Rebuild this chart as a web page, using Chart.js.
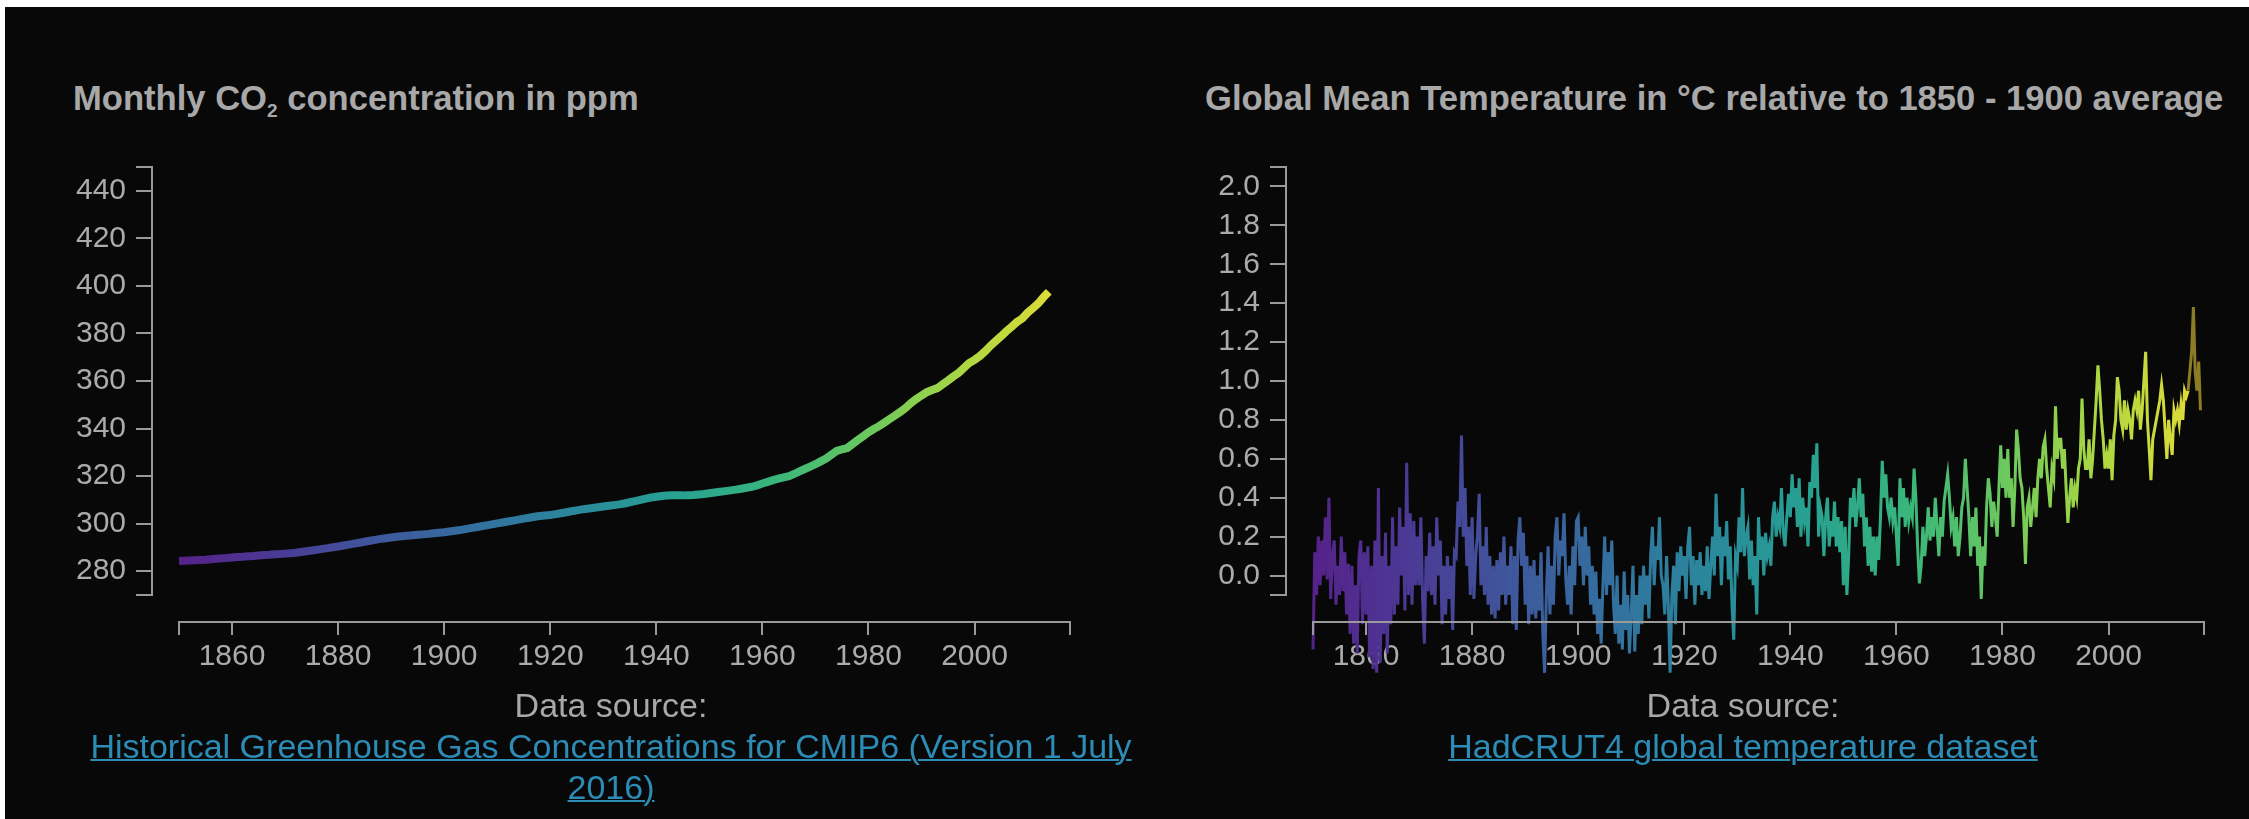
<!DOCTYPE html>
<html>
<head>
<meta charset="utf-8">
<script src="https://cdn.jsdelivr.net/npm/chart.js@4"></script>
<style>
  html, body { margin: 0; padding: 0; background: #fff; }
  body { width: 2249px; height: 819px; position: relative; overflow: hidden;
         font-family: 'Liberation Sans', Arial, Helvetica, sans-serif; }
  #panel { position: absolute; left: 5px; top: 7px; right: 0; bottom: 0; background: #080808; }
  canvas { position: absolute; top: 0; }
  .title { position: absolute; top: 81px; font-size: 34.6px; font-weight: bold; color: #a8a8a8;
           line-height: 34px; white-space: nowrap; }
  .title sub { font-size: 19px; vertical-align: -7px; line-height: 0; }
  .source { position: absolute; top: 685px; width: 1200px; text-align: center; font-size: 34px;
            line-height: 41px; color: #a8a8a8; white-space: nowrap; }
  .source a { color: #2c8cb5; text-decoration: underline; text-decoration-thickness: 2px; }
</style>
</head>
<body>
<div id="panel"></div>
<div class="title" style="left:73px">Monthly CO<sub>2</sub> concentration in ppm</div>
<div class="title" style="left:1205px">Global Mean Temperature in °C relative to 1850 - 1900 average</div>
<canvas id="co2" width="1124" height="700" style="left:0"></canvas>
<canvas id="temp" width="1125" height="700" style="left:1124px"></canvas>
<div class="source" style="left:11px">Data source:<br><a href="#">Historical Greenhouse Gas Concentrations for CMIP6 (Version 1 July<br>2016)</a></div>
<div class="source" style="left:1143px">Data source:<br><a href="#">HadCRUT4 global temperature dataset</a></div>
<script>
// x axis shared by both charts
const yearRange = [1850, 2018]
const yearTicks = [1860, 1880, 1900, 1920, 1940, 1960, 1980, 2000]

// CO2, one value per year from 1850
const co2StartYear = 1850
const co2Range = [270, 450]
const co2Ticks = [280, 300, 320, 340, 360, 380, 400, 420, 440]
const co2Values = [
  284.3, 284.4, 284.5, 284.6, 284.7, 284.8, 285.0, 285.2, 285.4, 285.6,
  285.8, 286.0, 286.1, 286.3, 286.4, 286.6, 286.8, 286.9, 287.1, 287.2,
  287.4, 287.6, 287.8, 288.1, 288.4, 288.7, 289.0, 289.4, 289.7, 290.1,
  290.4, 290.8, 291.2, 291.6, 292.0, 292.4, 292.8, 293.2, 293.6, 293.9,
  294.2, 294.5, 294.7, 294.9, 295.1, 295.3, 295.5, 295.7, 296.0, 296.2,
  296.4, 296.7, 297.0, 297.3, 297.7, 298.1, 298.5, 298.9, 299.3, 299.7,
  300.1, 300.5, 300.9, 301.3, 301.7, 302.1, 302.5, 302.9, 303.2, 303.4,
  303.6, 304.0, 304.4, 304.8, 305.2, 305.6, 306.0, 306.3, 306.6, 306.9,
  307.2, 307.5, 307.8, 308.1, 308.5, 309.0, 309.5, 310.0, 310.5, 311.0,
  311.3, 311.6, 311.8, 311.9, 311.9, 311.9, 312.0, 312.1, 312.3, 312.5,
  312.8, 313.1, 313.4, 313.7, 314.0, 314.3, 314.7, 315.1, 315.5, 316.1,
  316.9, 317.6, 318.3, 318.9, 319.5, 320.0, 320.9, 322.0, 323.0, 324.0,
  325.0, 326.2, 327.4, 329.0, 330.6, 331.2, 331.8, 333.5, 335.2, 336.8,
  338.4, 339.8, 341.0, 342.5, 344.0, 345.5, 347.0, 348.7, 350.7, 352.4,
  353.9, 355.3, 356.2, 357.0, 358.6, 360.2, 361.9, 363.4, 365.5, 367.6,
  368.9, 370.5, 372.5, 374.8, 376.8, 378.8, 380.9, 382.8, 384.8, 386.3,
  388.7, 390.6, 392.6, 395.2, 397.5
]

// temperature anomaly, three readings per year from 1850
const tempStartYear = 1850
const tempPerYear = 3
const tempRange = [-0.1, 2.1]
const tempTicks = [0.0, 0.2, 0.4, 0.6, 0.8, 1.0, 1.2, 1.4, 1.6, 1.8, 2.0]
const provisionalFrom = 2015
const temp1850s = [-0.38,0.12,-0.10, 0.20,-0.05,0.18, 0.00,0.30,-0.02, 0.40,-0.12,0.10, 0.18,-0.15,0.05, -0.10,0.20,-0.08, 0.12,-0.20,0.06, -0.30,0.05,-0.35, -0.05,-0.40,0.10, 0.18,-0.25,0.12]
const temp1860s = [-0.20,0.15,-0.42, 0.05,-0.48,0.18, -0.50,0.45,-0.45, 0.10,-0.30,0.22, -0.40,0.05,-0.25, 0.30,-0.20,0.15, -0.15,0.35,0.00, 0.25,-0.18,0.58, -0.10,0.32,-0.15, 0.28,-0.05,0.20]
const temp1870s = [-0.05,0.30,-0.12, -0.35,0.10,-0.08, 0.22,-0.10,0.15, -0.15,0.30,0.00, 0.18,-0.25,0.05, -0.20,0.10,-0.12, 0.05,-0.28,0.12, 0.10,0.38,0.25, 0.72,0.20,0.45, 0.05,0.25,-0.10]
const temp1880s = [0.30,-0.12,0.10, 0.20,0.42,-0.05, 0.15,-0.10,0.25, -0.15,0.10,-0.20, 0.05,-0.22,0.08, -0.18,0.12,-0.10, 0.20,-0.15,0.05, -0.10,0.15,-0.25, 0.10,-0.28,0.18, 0.30,0.05,0.22]
const temp1890s = [-0.15,0.10,-0.25, 0.05,-0.20,0.08, -0.22,0.00,-0.18, 0.12,-0.30,-0.50, -0.10,0.15,-0.20, 0.05,-0.15,0.20, 0.30,0.00,0.18, 0.10,0.32,-0.02, -0.15,0.05,-0.20, 0.15,-0.05,0.28]
const temp1900s = [0.30,0.05,0.20, -0.05,0.25,0.00, 0.15,-0.15,0.05, -0.20,0.02,-0.30, -0.12,-0.35,-0.05, 0.20,-0.10,0.12, -0.05,0.18,-0.15, -0.30,0.00,-0.35, -0.15,-0.38,0.02, -0.28,-0.10,-0.40]
const temp1910s = [-0.20,0.05,-0.39, -0.10,-0.30,0.00, -0.25,0.05,-0.15, 0.00,-0.22,0.10, 0.25,-0.05,0.15, 0.08,0.30,0.00, -0.05,-0.20,0.10, -0.15,-0.50,-0.10, 0.05,-0.25,0.12, -0.08,0.15,0.00]
const temp1920s = [0.10,-0.12,0.15, 0.25,-0.05,0.10, -0.15,0.08,-0.05, 0.12,-0.10,0.05, -0.08,0.15,-0.12, 0.05,0.20,0.00, 0.42,0.10,0.25, -0.05,0.20,0.10, 0.28,-0.02,0.15, -0.15,-0.33,0.10]
const temp1930s = [0.05,0.30,0.12, 0.45,0.10,0.20, 0.25,-0.02,0.18, -0.05,0.10,-0.20, 0.30,0.08,0.20, 0.00,0.22,0.10, 0.15,0.05,0.30, 0.38,0.20,0.30, 0.25,0.45,0.22, 0.15,0.30,0.42]
const temp1940s = [0.30,0.52,0.35, 0.45,0.25,0.50, 0.20,0.40,0.28, 0.35,0.15,0.48, 0.40,0.62,0.45, 0.68,0.20,0.35, 0.30,0.10,0.30, 0.40,0.15,0.28, 0.20,0.38,0.15, 0.30,0.12,0.28]
const temp1950s = [-0.05,0.25,-0.10, 0.10,0.40,0.30, 0.45,0.25,0.35, 0.50,0.30,0.42, 0.15,0.30,0.05, 0.25,0.02,0.20, 0.00,0.20,0.08, 0.30,0.59,0.40, 0.52,0.35,0.30, 0.40,0.28,0.35]
const temp1960s = [0.20,0.05,0.50, 0.30,0.45,0.25, 0.40,0.28,0.35, 0.30,0.55,0.40, 0.15,-0.04,0.05, 0.25,0.10,0.20, 0.35,0.18,0.30, 0.20,0.40,0.25, 0.10,0.30,0.20, 0.38,0.45,0.52]
const temp1970s = [0.40,0.25,0.30, 0.15,0.30,0.10, 0.20,0.35,0.40, 0.60,0.45,0.30, 0.10,0.30,0.15, 0.35,0.05,0.20, -0.12,0.15,0.05, 0.35,0.50,0.42, 0.25,0.38,0.30, 0.20,0.45,0.67]
const temp1980s = [0.45,0.60,0.40, 0.65,0.40,0.50, 0.25,0.45,0.75, 0.65,0.50,0.45, 0.30,0.06,0.35, 0.40,0.25,0.35, 0.45,0.30,0.50, 0.60,0.50,0.66, 0.70,0.55,0.45, 0.35,0.55,0.50]
const temp1990s = [0.87,0.60,0.70, 0.70,0.55,0.65, 0.45,0.27,0.40, 0.50,0.35,0.45, 0.40,0.55,0.60, 0.91,0.65,0.55, 0.55,0.70,0.50, 0.60,0.75,0.90, 1.08,0.95,0.80, 0.70,0.55,0.62]
const temp2000s = [0.55,0.70,0.49, 0.72,0.80,1.02, 0.95,0.80,0.75, 0.90,0.75,0.85, 0.80,0.70,0.85, 0.90,0.85,0.95, 0.75,0.85,1.00, 1.15,0.80,0.65, 0.49,0.70,0.75, 0.80,0.85,0.90]
const temp2010s = [0.98,0.90,0.75, 0.60,0.80,0.70, 0.62,0.85,0.80, 0.85,0.78,0.88, 0.80,0.95,0.92, 0.95,1.05,1.15, 1.38,1.05,0.95, 1.10,0.85]

const tempValues = [].concat(temp1850s, temp1860s, temp1870s, temp1880s, temp1890s, temp1900s,
  temp1910s, temp1920s, temp1930s, temp1940s, temp1950s, temp1960s, temp1970s, temp1980s,
  temp1990s, temp2000s, temp2010s)

const co2Points = co2Values.map((v, i) => ({ x: co2StartYear + i, y: v }))
const tempPoints = tempValues.map((v, i) => ({ x: tempStartYear + i / tempPerYear, y: v }))

// colours
const viridis = ['#55228a', '#4b3a96', '#3f579c', '#33709f', '#2a889c', '#27a191', '#38b67c', '#6cc95d', '#b0d840', '#e6dc36']
const textColor = '#ababab'
const axisColor = '#9a9a9a'

Chart.defaults.font.family = "'Liberation Sans', Arial, Helvetica, sans-serif"
Chart.defaults.color = textColor

function yearGradient(context) {
  const chart = context.chart
  const x = chart.scales.x
  if (!chart.chartArea || !x) return viridis[0]
  const g = chart.ctx.createLinearGradient(x.getPixelForValue(yearRange[0]), 0, x.getPixelForValue(yearRange[1]), 0)
  viridis.forEach((c, i) => g.addColorStop(i / (viridis.length - 1), c))
  return g
}

// d3 style axes: detached from the plot area, with outer ticks
const offsetAxes = {
  id: 'offsetAxes',
  afterDatasetsDraw(chart, args, opts) {
    const { ctx, chartArea, scales: { x, y } } = chart
    const ax = chartArea.left - opts.gap
    const ay = chartArea.bottom + opts.gap
    ctx.save()
    ctx.strokeStyle = opts.color
    ctx.lineWidth = 2
    ctx.beginPath()
    ctx.moveTo(ax - opts.yTick, y.top)
    ctx.lineTo(ax, y.top)
    ctx.lineTo(ax, y.bottom)
    ctx.lineTo(ax - opts.yTick, y.bottom)
    y.ticks.forEach(t => {
      const py = Math.round(y.getPixelForValue(t.value))
      ctx.moveTo(ax - opts.yTick, py)
      ctx.lineTo(ax, py)
    })
    ctx.moveTo(x.left, ay + opts.xTick)
    ctx.lineTo(x.left, ay)
    ctx.lineTo(x.right, ay)
    ctx.lineTo(x.right, ay + opts.xTick)
    x.ticks.forEach(t => {
      const px = Math.round(x.getPixelForValue(t.value))
      ctx.moveTo(px, ay)
      ctx.lineTo(px, ay + opts.xTick)
    })
    ctx.stroke()
    ctx.restore()
  }
}

const useTicks = list => scale => { scale.ticks = list.map(value => ({ value })) }

function makeChart(id, dataset, yRange, yTicks, yLabel, padding) {
  return new Chart(document.getElementById(id), {
    type: 'line',
    data: { datasets: [dataset] },
    options: {
      responsive: false,
      animation: false,
      layout: { padding },
      plugins: {
        legend: { display: false },
        tooltip: { enabled: false },
        offsetAxes: { gap: 27, yTick: 16, xTick: 13, color: axisColor }
      },
      elements: { point: { radius: 0 } },
      scales: {
        x: {
          type: 'linear', min: yearRange[0], max: yearRange[1],
          afterBuildTicks: useTicks(yearTicks),
          afterFit: s => { s.height = 80 },
          grid: { display: false, drawTicks: false }, border: { display: false },
          ticks: { autoSkip: false, maxRotation: 0,
                   padding: 44, color: textColor, font: { size: 30 }, callback: v => String(v) }
        },
        y: {
          type: 'linear', min: yRange[0], max: yRange[1],
          afterBuildTicks: useTicks(yTicks),
          afterFit: s => { s.width = 120 },
          grid: { display: false, drawTicks: false }, border: { display: false },
          ticks: { autoSkip: false,
                   padding: 53, color: textColor, font: { size: 30 }, callback: yLabel }
        }
      }
    },
    plugins: [offsetAxes]
  })
}

makeChart('co2', {
  data: co2Points,
  borderColor: yearGradient,
  borderWidth: 8,
  clip: false
}, co2Range, co2Ticks, v => String(v), { left: 59, right: 54, top: 167, bottom: 25 })

makeChart('temp', {
  data: tempPoints,
  borderColor: yearGradient,
  borderWidth: 3,
  clip: false,
  segment: { borderColor: c => c.p0.parsed.x >= provisionalFrom ? '#8c7c24' : undefined }
}, tempRange, tempTicks, v => v.toFixed(1), { left: 69, right: 45, top: 167, bottom: 25 })
</script>
</body>
</html>
